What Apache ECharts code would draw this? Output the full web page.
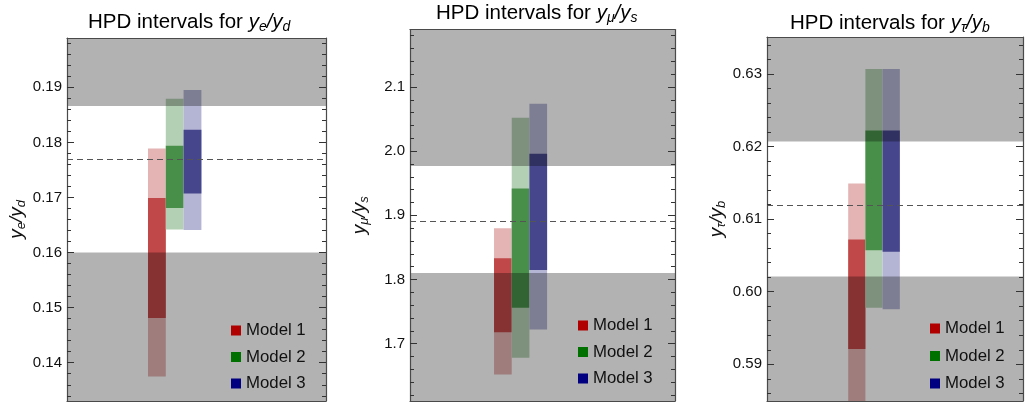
<!DOCTYPE html>
<html><head><meta charset="utf-8">
<script src="https://cdn.jsdelivr.net/npm/echarts@6/dist/echarts.min.js"></script>
<style>html,body{margin:0;padding:0;background:#fff}#c{width:1025px;height:403px}</style>
</head><body><div id="c"></div>
<script>
// ---------- data ----------
const models = ['Model 1', 'Model 2', 'Model 3'];

// Panel 1: y_e / y_d   (outer = wide HPD interval, inner = narrow HPD interval)
const yeyd_outer = [[0.1375, 0.1789], [0.1642, 0.1879], [0.1641, 0.1895]];
const yeyd_inner = [[0.1481, 0.1699], [0.1681, 0.1794], [0.1707, 0.1823]];
const yeyd_allowed = [0.1600, 0.1866];
const yeyd_central = 0.1770;
const yeyd_ticks = [0.14, 0.15, 0.16, 0.17, 0.18, 0.19];

// Panel 2: y_mu / y_s
const ymuys_outer = [[1.652, 1.880], [1.678, 2.052], [1.722, 2.074]];
const ymuys_inner = [[1.718, 1.833], [1.756, 1.942], [1.815, 1.996]];
const ymuys_allowed = [1.810, 1.977];
const ymuys_central = 1.891;
const ymuys_ticks = [1.7, 1.8, 1.9, 2.0, 2.1];

// Panel 3: y_tau / y_b
const ytauyb_outer = [[0.5830, 0.6149], [0.5978, 0.6307], [0.5976, 0.6307]];
const ytauyb_inner = [[0.5921, 0.6072], [0.6057, 0.6222], [0.6055, 0.6222]];
const ytauyb_allowed = [0.6021, 0.6207];
const ytauyb_central = 0.6119;
const ytauyb_ticks = [0.59, 0.60, 0.61, 0.62, 0.63];

const titleTexts = [
  '{n|HPD intervals for }{i|y}{s|e}{i|/y}{s|d}',
  '{n|HPD intervals for }{i|y}{s|μ}{i|/y}{s|s}',
  '{n|HPD intervals for }{i|y}{s|τ}{i|/y}{s|b}'
];
const axisNames = [
  '{i|y}{s|e}{i|/y}{s|d}',
  '{i|y}{s|μ}{i|/y}{s|s}',
  '{i|y}{s|τ}{i|/y}{s|b}'
];

// ---------- styling / layout ----------
const FONT = 'Liberation Sans, Arial, Helvetica, sans-serif';
const outerColors = ['#e4b4b4', '#b4d0b4', '#b4b4d4'];
const innerColors = ['#c04848', '#48904a', '#46468c'];
const legendColors = ['#b00000', '#007000', '#000080'];

const panels = [
  {outer: yeyd_outer, inner: yeyd_inner, allowed: yeyd_allowed, central: yeyd_central, ticks: yeyd_ticks,
   ymin: 0.13305, ymax: 0.19895, minorStep: 0.002, dec: 2,
   grid: {left: 67, top: 38, width: 259, height: 363}, xmin: -4.05, xmax: 10.5,
   titleX: 88, titleY: 22, legend: {left: 226, top: 317, gap: 9.5}},
  {outer: ymuys_outer, inner: ymuys_inner, allowed: ymuys_allowed, central: ymuys_central, ticks: ymuys_ticks,
   ymin: 1.6107, ymax: 2.1896, minorStep: 0.02, dec: 1,
   grid: {left: 410, top: 29.5, width: 265, height: 371.5}, xmin: -4.25, xmax: 10.73,
   titleX: 436, titleY: 13, legend: {left: 573, top: 312, gap: 9.5}},
  {outer: ytauyb_outer, inner: ytauyb_inner, allowed: ytauyb_allowed, central: ytauyb_central, ticks: ytauyb_ticks,
   ymin: 0.58494, ymax: 0.6351, minorStep: 0.002, dec: 2,
   grid: {left: 767, top: 37, width: 256, height: 364}, xmin: -4.22, xmax: 10.66,
   titleX: 790, titleY: 23, legend: {left: 925, top: 315, gap: 10.5}}
];

const richMain = {
  n: {fontSize: 20.5, fontFamily: FONT, color: '#111'},
  i: {fontSize: 20.5, fontFamily: FONT, fontStyle: 'italic', color: '#111'},
  s: {fontSize: 14, fontFamily: FONT, fontStyle: 'italic', color: '#111', padding: [10, 0, 0, 0]}
};

function minorValues(min, max, step) {
  const out = [];
  for (let k = Math.ceil(min / step - 1e-9); k <= Math.floor(max / step + 1e-9); k++) out.push(+(k * step).toFixed(6));
  return out;
}

function makeRender(mi) {
  return function (params, api) {
    const x = api.value(0);
    const w = api.size([1, 0])[0];
    const cs = params.coordSys;
    const clip = {x: cs.x, y: cs.y, width: cs.width, height: cs.height};
    function rect(a, b, color) {
      const p1 = api.coord([x, b]), p2 = api.coord([x, a]);
      const r = echarts.graphic.clipRectByRect(
        {x: p1[0] - w / 2, y: p1[1], width: w, height: p2[1] - p1[1]}, clip);
      return r ? {type: 'rect', shape: r, style: {fill: color}} : null;
    }
    const ch = [rect(api.value(1), api.value(2), outerColors[mi]),
                rect(api.value(3), api.value(4), innerColors[mi])].filter(Boolean);
    return {type: 'group', children: ch};
  };
}

const grid = [], xAxis = [], yAxis = [], series = [], legend = [], graphic = [];

panels.forEach((p, gi) => {
  grid.push(Object.assign({containLabel: false}, p.grid));
  const xb = {gridIndex: gi, type: 'value', min: p.xmin, max: p.xmax, z: 10,
    axisLine: {show: true, onZero: false, lineStyle: {color: '#4a4a4a', width: 1.2}},
    axisTick: {show: false}, axisLabel: {show: false}, splitLine: {show: false}};
  xAxis.push(Object.assign({position: 'bottom'}, xb));
  xAxis.push(Object.assign({position: 'top'}, xb));
  const xIdx = gi * 2;

  const minors = minorValues(p.ymin, p.ymax, p.minorStep);
  const base = {gridIndex: gi, type: 'value', min: p.ymin, max: p.ymax, z: 10, splitLine: {show: false}};
  // left major
  yAxis.push(Object.assign({}, base, {
    position: 'left',
    name: axisNames[gi], nameLocation: 'middle', nameRotate: 90, nameGap: 39,
    nameTextStyle: {rich: {
      i: {fontSize: 19, fontFamily: FONT, fontStyle: 'italic', color: '#111'},
      s: {fontSize: 13, fontFamily: FONT, fontStyle: 'italic', color: '#111', padding: [9, 0, 0, 0]}}},
    axisLine: {show: true, onZero: false, lineStyle: {color: '#4a4a4a', width: 1.2}},
    axisTick: {show: true, inside: true, length: 7, customValues: p.ticks, lineStyle: {color: '#333'}},
    axisLabel: {show: true, margin: 5, customValues: p.ticks, fontSize: 15, fontFamily: FONT, color: '#111',
      formatter: v => (+v).toFixed(p.dec)}
  }));
  const yMain = yAxis.length - 1;
  // left minor
  yAxis.push(Object.assign({}, base, {position: 'left', axisLine: {show: false, onZero: false},
    axisTick: {show: true, inside: true, length: 4, customValues: minors, lineStyle: {color: '#333'}},
    axisLabel: {show: false}}));
  // right major
  yAxis.push(Object.assign({}, base, {position: 'right',
    axisLine: {show: true, onZero: false, lineStyle: {color: '#4a4a4a', width: 1.2}},
    axisTick: {show: true, inside: true, length: 7, customValues: p.ticks, lineStyle: {color: '#333'}},
    axisLabel: {show: false}}));
  // right minor
  yAxis.push(Object.assign({}, base, {position: 'right', axisLine: {show: false, onZero: false},
    axisTick: {show: true, inside: true, length: 4, customValues: minors, lineStyle: {color: '#333'}},
    axisLabel: {show: false}}));

  models.forEach((m, mi) => {
    series.push({
      type: 'custom', name: m, xAxisIndex: xIdx, yAxisIndex: yMain, z: 2,
      itemStyle: {color: legendColors[mi]},
      renderItem: makeRender(mi),
      encode: {x: 0, y: [1, 2, 3, 4]},
      data: [[mi + 1, p.outer[mi][0], p.outer[mi][1], p.inner[mi][0], p.inner[mi][1]]],
      silent: true
    });
  });

  // excluded regions (gray overlay) + central value (dashed)
  series.push({
    type: 'line', name: 'bands' + gi, xAxisIndex: xIdx, yAxisIndex: yMain, z: 5, data: [],
    silent: true,
    markArea: {silent: true, z: 5, itemStyle: {color: 'rgba(0,0,0,0.3)'},
      data: [[{yAxis: p.ymin}, {yAxis: p.allowed[0]}], [{yAxis: p.allowed[1]}, {yAxis: p.ymax}]]},
    markLine: {silent: true, z: 6, symbol: 'none', precision: 6, label: {show: false},
      lineStyle: {type: [6, 4], color: '#555', width: 1},
      data: [{yAxis: p.central}]}
  });

  legend.push({
    data: models.map((m, mi) => ({name: m, itemStyle: {color: legendColors[mi]}})),
    orient: 'vertical', left: p.legend.left, top: p.legend.top, z: 20,
    icon: 'rect', itemWidth: 10, itemHeight: 10, itemGap: p.legend.gap, selectedMode: false,
    textStyle: {fontSize: 16.8, fontFamily: FONT, color: '#111', lineHeight: 16}
  });

  graphic.push({
    type: 'text', x: p.titleX, y: p.titleY, z: 20,
    style: {text: titleTexts[gi], rich: richMain, align: 'left', verticalAlign: 'middle'}
  });
});

const chart = echarts.init(document.getElementById('c'), null, {renderer: 'canvas'});
chart.setOption({
  animation: false,
  backgroundColor: '#fff',
  grid, xAxis, yAxis, series, legend, graphic
});
</script>
</body></html>
